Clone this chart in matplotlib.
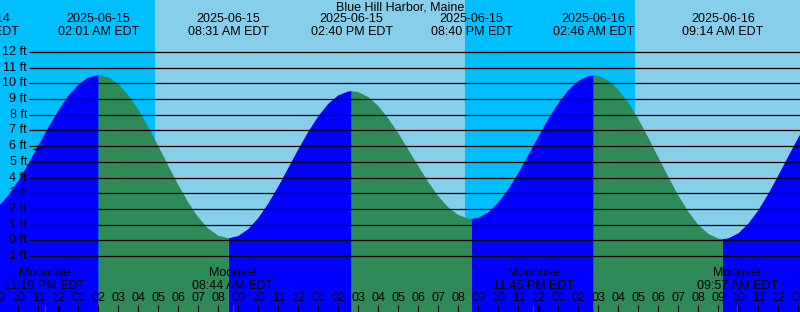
import numpy as np
import matplotlib
matplotlib.use('Agg')
import matplotlib.pyplot as plt
import matplotlib.transforms as mtransforms

plt.rcParams['font.family'] = ['Liberation Sans', 'DejaVu Sans']

station = 'Blue Hill Harbor, Maine'

# tide heights (ft) every half hour, hours after 2025-06-15 00:00 EDT
sample_hours = np.arange(-3.0, 38.0, 0.5)
sample_heights = [
    2.15, 2.86, 3.78, 4.86, 6.02, 7.18, 8.26, 9.20, 9.91, 10.37,
    10.53, 10.39, 9.95, 9.25, 8.33, 7.21, 6.00, 4.75, 3.53, 2.41,
    1.46, 0.75, 0.29, 0.13, 0.27, 0.71, 1.41, 2.34, 3.42, 4.60,
    5.79, 6.91, 7.90, 8.69, 9.23, 9.48, 9.44, 9.12, 8.55, 7.76,
    6.82, 5.78, 4.72, 3.71, 2.81, 2.10, 1.61, 1.38, 1.43, 1.77,
    2.40, 3.25, 4.28, 5.42, 6.59, 7.72, 8.73, 9.56, 10.14, 10.46,
    10.47, 10.17, 9.59, 8.76, 7.72, 6.54, 5.29, 4.04, 2.86, 1.82,
    0.99, 0.41, 0.11, 0.12, 0.44, 1.05, 1.90, 2.95, 4.12, 5.34,
    6.53, 7.62,
]

# high / low tides
event_hours = [-4.0, 2.017, 8.517, 14.667, 20.667, 26.767, 33.233, 39.4]
event_heights = [1.55, 10.53, 0.13, 9.5, 1.36, 10.5, 0.08, 9.7]
event_kinds = ['low', 'high', 'low', 'high', 'low', 'high', 'low', 'high']
event_dates = ['2025-06-14', '2025-06-15', '2025-06-15', '2025-06-15',
               '2025-06-15', '2025-06-16', '2025-06-16', '2025-06-16']
event_times = ['08:00 PM EDT', '02:01 AM EDT', '08:31 AM EDT', '02:40 PM EDT',
               '08:40 PM EDT', '02:46 AM EDT', '09:14 AM EDT', '03:24 PM EDT']

# sunrise, sunset, sunrise
sun_hours = [4.83, 20.33, 28.83]

moon_hours = [-0.683, 8.733, 23.75, 33.95]
moon_names = ['Moonrise', 'Moonset', 'Moonrise', 'Moonset']
moon_times = ['11:19 PM EDT', '08:44 AM EDT', '11:45 PM EDT', '09:57 AM EDT']

levels = list(range(-1, 13))

fs = 9
night = '#00bfff'
day = '#87ceeb'
x0, x1 = -2.915, 37.085

fig = plt.figure(figsize=(8, 3.12), dpi=100)
ax = fig.add_axes([0, 0, 1, 1])
ax.axis('off')
trans = mtransforms.blended_transform_factory(ax.transData, ax.transAxes)


def ypos(p):
    # pixel row -> axes fraction
    return 1 - p / 312.0


# day / night background
edges = [-10] + sun_hours + [50]
for i in range(len(edges) - 1):
    ax.axvspan(edges[i], edges[i + 1], color=night if i % 2 == 0 else day, lw=0, zorder=0)

# tide curve, blue when rising and green when falling
t = np.concatenate([sample_hours, event_hours])
h = np.concatenate([sample_heights, event_heights])
order = np.argsort(t, kind='stable')
t = t[order]
h = h[order]

rising = np.zeros(len(t), dtype=bool)
falling = np.zeros(len(t), dtype=bool)
for i in range(len(event_hours) - 1):
    seg = (t >= event_hours[i]) & (t <= event_hours[i + 1])
    if event_kinds[i] == 'low':
        rising |= seg
    else:
        falling |= seg

ax.fill_between(t, h, -10, where=rising, color='#0000ff', lw=0, zorder=1)
ax.fill_between(t, h, -10, where=falling, color='#2e8b57', lw=0, zorder=1)

# height lines and labels
ax.hlines(levels, -1.465, 40, color='black', lw=0.9, zorder=2)
for lv in levels:
    ax.text(-1.565, lv, '{} ft'.format(lv), ha='right', va='center', fontsize=fs, zorder=3)

ax.plot([-1.07], [5.8], marker='+', color='black', ms=6, mew=1, zorder=3)

# title and tide event labels
ax.text(0.5, ypos(7.3), station, transform=ax.transAxes, ha='center', va='center', fontsize=fs)
for hr, d, tm in zip(event_hours, event_dates, event_times):
    if hr > x1 + 1:
        continue
    ax.text(hr, ypos(19.5), d, transform=trans, ha='center', va='center', fontsize=fs)
    ax.text(hr, ypos(31.7), tm, transform=trans, ha='center', va='center', fontsize=fs)

# moon labels
for hr, name, tm in zip(moon_hours, moon_names, moon_times):
    ax.text(hr, ypos(272.7), name, transform=trans, ha='center', va='center', fontsize=fs)
    ax.text(hr, ypos(285.7), tm, transform=trans, ha='center', va='center', fontsize=fs)

# hour axis
for hr in range(-3, 38):
    lab = '{:02d}'.format(((hr % 24) - 1) % 12 + 1)
    ax.text(hr, ypos(297.7), lab, transform=trans, ha='center', va='center', fontsize=fs)
    lw = 2.2 if hr % 24 == 0 else 0.8
    ax.plot([hr, hr], [ypos(312), ypos(305)], transform=trans, color='black', lw=lw,
            solid_capstyle='butt')
for hr in moon_hours:
    ax.plot([hr, hr], [ypos(312), ypos(305)], transform=trans, color='red', lw=0.8,
            solid_capstyle='butt')

ax.set_xlim(x0, x1)
ax.set_ylim(-4.567, 15.306)

fig.savefig('out.png', dpi=100)
